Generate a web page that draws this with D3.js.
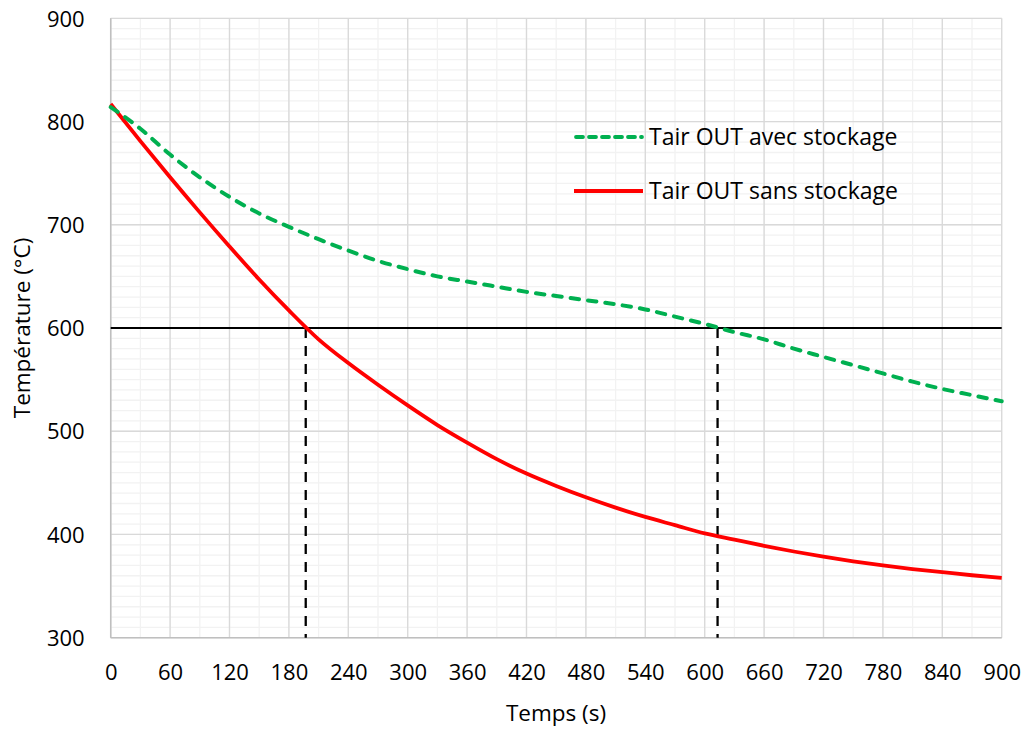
<!DOCTYPE html>
<html>
<head>
<meta charset="utf-8">
<script src="https://cdn.jsdelivr.net/npm/d3@7"></script>
<style>
  html, body { margin: 0; padding: 0; background: #ffffff; }
  svg { display: block; }
  text { font-family: "Open Sans", "Liberation Sans", sans-serif; fill: #000; }
</style>
</head>
<body>
<svg id="chart" width="1025" height="729"></svg>
<script>
// ---- Data ----
const times = [0,30,60,90,120,150,180,210,240,270,300,330,360,390,420,450,480,510,540,570,600,630,660,690,720,750,780,810,840,870,900];
const avecStockage = [814,793,768,746,727,711,698,686,675,665,657,650,645,640,635,631,627,623,618,611,604,596,589,580,572,564,556,548,541,535,529];
const sansStockage = [817,781,746,712,679,647,617,589,566,545,525,506,489,473,459,447,436,426,417,409,401,395,389,383.5,378.5,374,370,366.5,363.5,360.5,358];
const seriesNames = ["Tair OUT avec stockage", "Tair OUT sans stockage"];
const threshold = 600;
const crossings = [197, 613];
const xTicks = [0,60,120,180,240,300,360,420,480,540,600,660,720,780,840,900];
const yTicks = [300,400,500,600,700,800,900];
const xTitle = "Temps (s)";
const yTitle = "Température (°C)";

// ---- Layout ----
const svg = d3.select("#chart");
const pL = 110.7, pR = 1001.7, pT = 18.3, pB = 637.7;
const x = d3.scaleLinear().domain([0, 900]).range([pL, pR]);
const y = d3.scaleLinear().domain([300, 900]).range([pB, pT]);
const FONT = '"Open Sans", "Liberation Sans", sans-serif';

// minor gridlines
const g = svg.append("g");
g.selectAll(".vminor").data(d3.range(0, 901, 30)).enter().append("line")
  .attr("x1", d => x(d)).attr("x2", d => x(d)).attr("y1", pT).attr("y2", pB)
  .attr("stroke", "#f2f2f2").attr("stroke-width", 1.3);
g.selectAll(".hminor").data(d3.range(300, 901, 10)).enter().append("line")
  .attr("x1", pL).attr("x2", pR).attr("y1", d => y(d)).attr("y2", d => y(d))
  .attr("stroke", "#f2f2f2").attr("stroke-width", 1.3);
// major gridlines
g.selectAll(".vmajor").data(xTicks).enter().append("line")
  .attr("x1", d => x(d)).attr("x2", d => x(d)).attr("y1", pT).attr("y2", pB)
  .attr("stroke", "#d9d9d9").attr("stroke-width", 1.3);
g.selectAll(".hmajor").data(yTicks).enter().append("line")
  .attr("x1", pL).attr("x2", pR).attr("y1", d => y(d)).attr("y2", d => y(d))
  .attr("stroke", "#d9d9d9").attr("stroke-width", 1.3);
// axis lines
svg.append("line").attr("x1", pL).attr("x2", pL).attr("y1", pT).attr("y2", pB)
  .attr("stroke", "#bfbfbf").attr("stroke-width", 1.5);
svg.append("line").attr("x1", pL).attr("x2", pR).attr("y1", pB).attr("y2", pB)
  .attr("stroke", "#bfbfbf").attr("stroke-width", 1.5);

// axes (labels only) via d3 axes
const xAxis = svg.append("g").attr("transform", `translate(0,${pB})`)
  .call(d3.axisBottom(x).tickValues(xTicks).tickSize(0).tickPadding(0).tickFormat(d3.format("d")));
xAxis.select(".domain").remove();
xAxis.selectAll("text").attr("font-size", 22).attr("dy", null).attr("y", 42)
  .style("font-family", FONT).attr("fill", "#000");

const yAxis = svg.append("g").attr("transform", `translate(${pL},0)`)
  .call(d3.axisLeft(y).tickValues(yTicks).tickSize(0).tickPadding(0).tickFormat(d3.format("d")));
yAxis.select(".domain").remove();
yAxis.selectAll("text").attr("font-size", 22).attr("x", -26).attr("dy", "0.35em")
  .style("font-family", FONT).attr("fill", "#000");

// axis titles
svg.append("text").attr("x", 556).attr("y", 721).attr("text-anchor", "middle")
  .attr("font-size", 22.5).text(xTitle);
svg.append("text").attr("transform", "translate(30,328) rotate(-90)").attr("text-anchor", "middle")
  .attr("font-size", 22.5).text(yTitle);

// threshold line
svg.append("line").attr("x1", x(0)).attr("x2", x(900)).attr("y1", y(threshold)).attr("y2", y(threshold))
  .attr("stroke", "#000").attr("stroke-width", 2);
// vertical dashed markers
svg.selectAll(".cross").data(crossings).enter().append("line")
  .attr("x1", d => x(d)).attr("x2", d => x(d)).attr("y1", y(threshold)).attr("y2", pB)
  .attr("stroke", "#000").attr("stroke-width", 2.3).attr("stroke-dasharray", "10,8");

// series
const line = d3.line().x((d, i) => x(times[i])).y(d => y(d)).curve(d3.curveMonotoneX);
svg.append("path").datum(sansStockage).attr("d", line)
  .attr("fill", "none").attr("stroke", "#ff0000").attr("stroke-width", 3.8);
svg.append("path").datum(avecStockage).attr("d", line)
  .attr("fill", "none").attr("stroke", "#00b050").attr("stroke-width", 4)
  .attr("stroke-dasharray", "8.5,9").attr("stroke-linecap", "round");

// legend
const legend = svg.append("g");
const legY = [137, 191];
legend.append("line").attr("x1", 576).attr("x2", 642).attr("y1", legY[0]).attr("y2", legY[0])
  .attr("stroke", "#00b050").attr("stroke-width", 3.8).attr("stroke-dasharray", "7,6").attr("stroke-linecap", "round");
legend.append("line").attr("x1", 574).attr("x2", 643).attr("y1", legY[1]).attr("y2", legY[1])
  .attr("stroke", "#ff0000").attr("stroke-width", 3.8);
legend.selectAll(".lt").data(seriesNames).enter().append("text")
  .attr("x", 649).attr("y", (d, i) => legY[i]).attr("dy", "0.35em")
  .attr("font-size", 23).text(d => d);
</script>
</body>
</html>
